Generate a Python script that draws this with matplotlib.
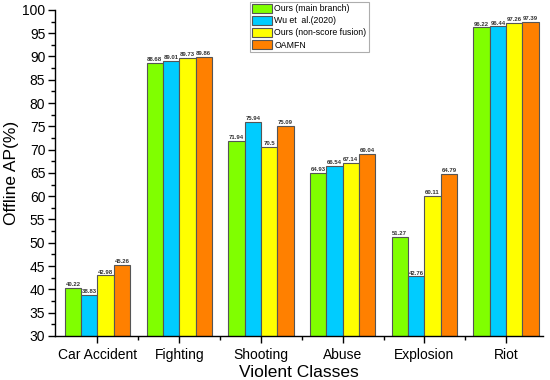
import numpy as np
import matplotlib.pyplot as plt
from matplotlib.ticker import MultipleLocator

plt.rcParams['font.family'] = ['Liberation Sans', 'DejaVu Sans']

categories = ['Car Accident', 'Fighting', 'Shooting', 'Abuse', 'Explosion', 'Riot']
series_names = ['Ours (main branch)', 'Wu et  al.(2020)', 'Ours (non-score fusion)', 'OAMFN']
ours_main = [40.22, 88.68, 71.94, 64.93, 51.27, 96.22]
wu_2020 = [38.83, 89.01, 75.94, 66.54, 42.76, 96.44]
ours_fusion = [42.98, 89.73, 70.5, 67.14, 60.11, 97.26]
oamfn = [45.26, 89.86, 75.09, 69.04, 64.79, 97.39]
value_labels = [
    ['40.22', '88.68', '71.94', '64.93', '51.27', '96.22'],
    ['38.83', '89.01', '75.94', '66.54', '42.76', '96.44'],
    ['42.98', '89.73', '70.5', '67.14', '60.11', '97.26'],
    ['45.26', '89.86', '75.09', '69.04', '64.79', '97.39'],
]

colors = ['#80ff00', '#00ccff', '#ffff00', '#ff8000']

fig = plt.figure(figsize=(5.5, 3.8), dpi=100)
ax = fig.add_axes([0.1, 0.116, 0.887, 0.858])

x = np.arange(len(categories))
width = 0.2
all_series = [ours_main, wu_2020, ours_fusion, oamfn]

for i, vals in enumerate(all_series):
    pos = x + (i - 1.5) * width
    ax.bar(pos, vals, width, bottom=0, color=colors[i], edgecolor='#555555',
           linewidth=0.8, label=series_names[i], zorder=2)
    for p, v, t in zip(pos, vals, value_labels[i]):
        ax.text(p, v + 0.2, t, ha='center', va='bottom', fontsize=4.3,
                fontweight='bold', color='#333333')

ax.set_ylim(30, 100)
ax.set_xlim(-0.52, 5.45)
ax.yaxis.set_major_locator(MultipleLocator(5))
ax.yaxis.set_minor_locator(MultipleLocator(2.5))
ax.set_xticks(x)
ax.set_xticklabels(categories, fontsize=10)
ax.set_xticks(x[:-1] + 0.5, minor=True)
ax.tick_params(axis='y', labelsize=10, direction='out', length=5, width=1, pad=2)
ax.tick_params(axis='y', which='minor', length=3, width=1)
ax.tick_params(axis='x', direction='out', length=5, width=1, pad=4)
ax.tick_params(axis='x', which='minor', length=3, width=1)

ax.spines['top'].set_visible(False)
ax.spines['right'].set_visible(False)
ax.spines['left'].set_linewidth(1)
ax.spines['bottom'].set_linewidth(1)

ax.set_ylabel('Offline AP(%)', fontsize=12.5, labelpad=2)
ax.set_xlabel('Violent Classes', fontsize=12.5, labelpad=2)

leg = ax.legend(loc='upper left', bbox_to_anchor=(0.4, 1.025), fontsize=6.3,
                frameon=True, fancybox=False, edgecolor='#999999',
                handlelength=2.2, handleheight=1.2, handletextpad=0.3,
                labelspacing=0.3, borderpad=0.25, borderaxespad=0)
leg.get_frame().set_linewidth(0.8)

fig.savefig('out.png', dpi=100)
